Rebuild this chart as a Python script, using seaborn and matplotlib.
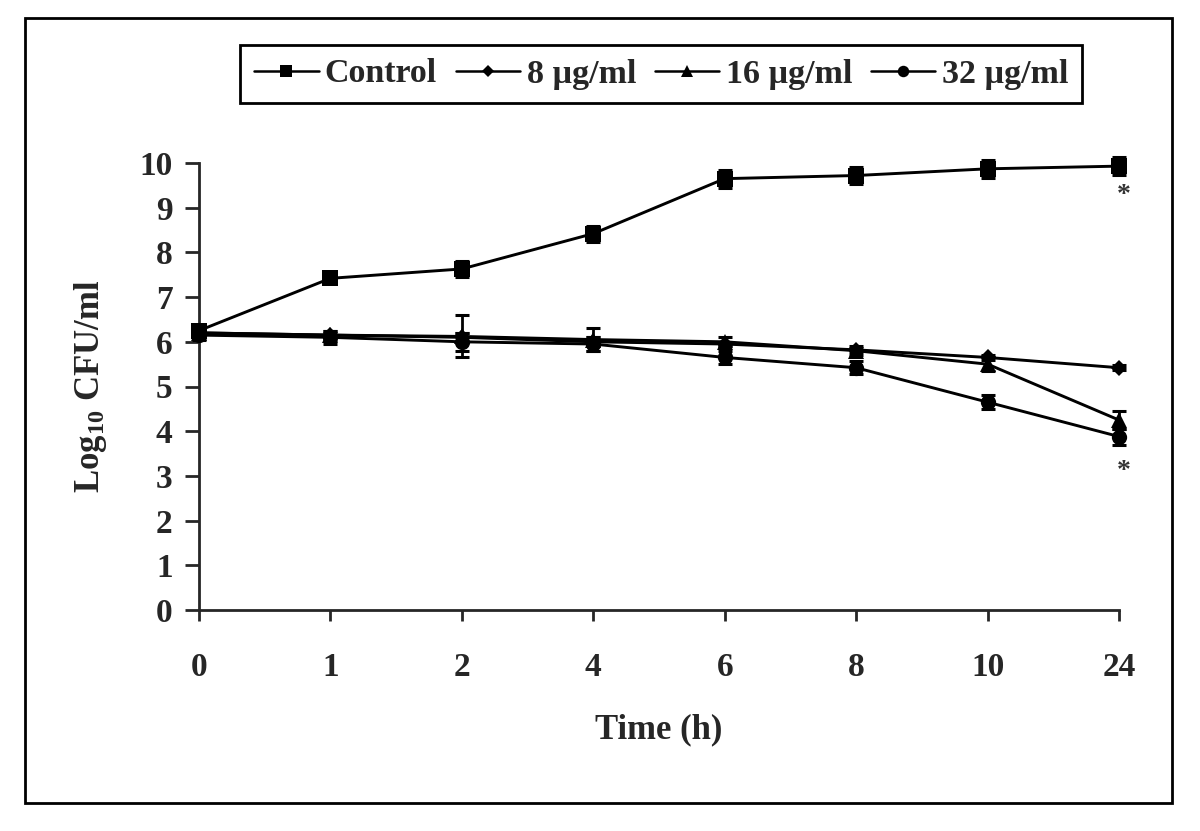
import numpy as np
import pandas as pd
import matplotlib.pyplot as plt
import seaborn as sns
from matplotlib.patches import Rectangle
from matplotlib.lines import Line2D

# --- data ---
time_labels = ['0', '1', '2', '4', '6', '8', '10', '24']
series_names = ['Control', '8 µg/ml', '16 µg/ml', '32 µg/ml']

control = [6.25, 7.42, 7.63, 8.42, 9.65, 9.72, 9.87, 9.93]
conc_8 = [6.2, 6.15, 6.1, 6.0, 5.95, 5.82, 5.65, 5.42]
conc_16 = [6.2, 6.15, 6.12, 6.05, 6.0, 5.8, 5.5, 4.25]
conc_32 = [6.15, 6.1, 6.0, 5.95, 5.65, 5.42, 4.65, 3.88]

control_err = [0.1, 0.07, 0.18, 0.18, 0.2, 0.2, 0.2, 0.2]
conc_8_err = [0.05, 0.05, 0.1, 0.1, 0.05, 0.05, 0.05, 0.05]
conc_16_err = [0.1, 0.1, 0.47, 0.25, 0.1, 0.1, 0.15, 0.2]
conc_32_err = [0.1, 0.15, 0.2, 0.15, 0.15, 0.15, 0.15, 0.18]

values = [control, conc_8, conc_16, conc_32]
errors = [control_err, conc_8_err, conc_16_err, conc_32_err]

df = pd.DataFrame({
    'pos': np.tile(np.arange(len(time_labels)), len(series_names)),
    'value': np.concatenate(values),
    'err': np.concatenate(errors),
    'group': np.repeat(series_names, len(time_labels)),
})

sns.set_style('ticks')
plt.rcParams['font.family'] = ['Liberation Serif', 'DejaVu Serif']
plt.rcParams['font.weight'] = 'bold'
plt.rcParams['mathtext.fontset'] = 'custom'
plt.rcParams['mathtext.rm'] = 'Liberation Serif:bold'
plt.rcParams['mathtext.default'] = 'rm'

fig = plt.figure(figsize=(12, 8.31), dpi=100)
ax = fig.add_axes([199 / 1200, 1 - 610 / 831, 920 / 1200, 447 / 831])

markers = {'Control': 's', '8 µg/ml': 'D', '16 µg/ml': '^', '32 µg/ml': 'o'}
sizes = {'Control': 11, '8 µg/ml': 8.5, '16 µg/ml': 11, '32 µg/ml': 11}
palette = {n: 'black' for n in series_names}

# error bars first, lines/markers on top
for name in series_names:
    sub = df[df['group'] == name]
    eb = ax.errorbar(sub['pos'], sub['value'], yerr=sub['err'], fmt='none',
                     ecolor='black', elinewidth=2, capsize=5, capthick=2.2, zorder=2)
    for artist in eb.lines[1] + eb.lines[2]:
        artist.set_clip_on(False)

sns.lineplot(data=df, x='pos', y='value', hue='group', style='group',
             markers=markers, dashes=False, palette=palette, ax=ax,
             linewidth=2.1, markeredgewidth=0, legend=False, zorder=3)
for line, name in zip(ax.get_lines()[-len(series_names):], series_names):
    line.set_markersize(sizes[name])
    line.set_clip_on(False)

ax.set_xlim(0, len(time_labels) - 1)
ax.set_ylim(0, 10)
ax.set_xticks(range(len(time_labels)))
ax.set_xticklabels(time_labels)
ax.set_yticks(range(0, 11))
sns.despine(ax=ax)
for s in ['left', 'bottom']:
    ax.spines[s].set_linewidth(2)
ax.tick_params(axis='y', direction='out', length=10, width=2, labelsize=24, pad=9)
ax.tick_params(axis='x', direction='out', length=8, width=2, labelsize=24, pad=22)

ax.set_xlabel('Time (h)', fontsize=25, fontweight='bold', labelpad=22)
ax.set_ylabel(r'Log$_{10}$ CFU/ml', fontsize=25, fontweight='bold', labelpad=22)

# significance marks
ax.text(7.04, 9.28, '*', fontsize=20, color='#333333', ha='center', va='center')
ax.text(7.04, 3.1, '*', fontsize=20, color='#333333', ha='center', va='center')

# legend
handles = [Line2D([], [], color='black', lw=1.8, marker=markers[n],
                  markersize=sizes[n] * 0.75, markeredgewidth=0) for n in series_names]
leg = fig.legend(handles, series_names, loc='center',
                 bbox_to_anchor=(661 / 1200, 1 - 74 / 831), ncol=4,
                 prop={'family': 'Liberation Serif', 'weight': 'bold', 'size': 24.5},
                 frameon=True, fancybox=False, edgecolor='black', framealpha=1,
                 handlelength=1.9, handletextpad=0.18, columnspacing=0.55,
                 borderpad=0.4, borderaxespad=0)
leg.get_frame().set_linewidth(2)

# outer frame
fig.patches.append(Rectangle((25 / 1200, 1 - 803 / 831), 1147 / 1200, 785 / 831,
                             transform=fig.transFigure, fill=False,
                             edgecolor='black', linewidth=2))

fig.savefig('out.png', dpi=100)
